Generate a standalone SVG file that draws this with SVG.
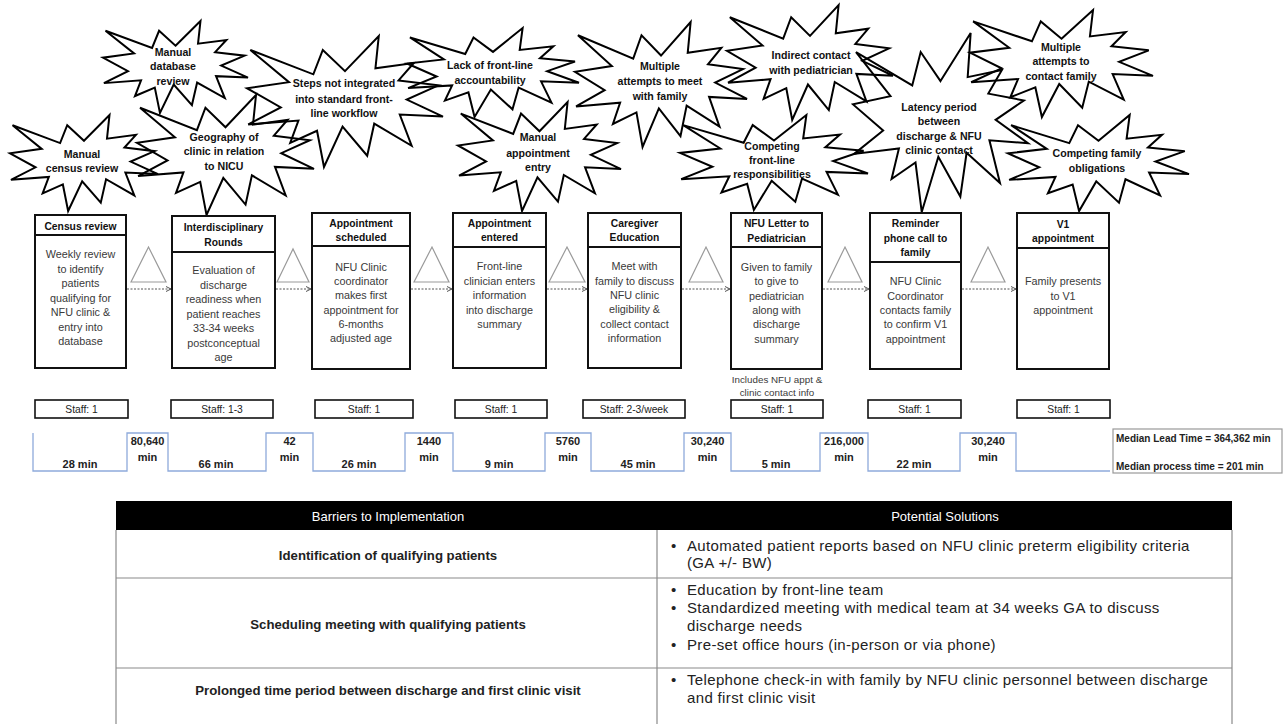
<svg xmlns="http://www.w3.org/2000/svg" width="1284" height="724" viewBox="0 0 1284 724">
<defs>
<style>
text{font-family:"Liberation Sans",Arial,sans-serif;}
.st{font-size:10.6px;font-weight:bold;fill:#111;text-anchor:middle;}
.hd{font-size:10.3px;font-weight:bold;fill:#111;text-anchor:middle;}
.bd{font-size:10.8px;fill:#3a3a3a;text-anchor:middle;}
.nt{font-size:9.8px;fill:#3a3a3a;text-anchor:middle;}
.sf{font-size:10.3px;fill:#222;text-anchor:middle;}
.tm{font-size:11px;font-weight:bold;fill:#222;text-anchor:middle;}
.md{font-size:10px;font-weight:bold;fill:#222;}
.th{font-size:13px;fill:#fff;text-anchor:middle;}
.tl{font-size:13.2px;font-weight:bold;fill:#222;text-anchor:middle;}
.tr{font-size:15px;letter-spacing:0.35px;fill:#222;}
.box{fill:#fff;stroke:#111;stroke-width:2;}
.sbox{fill:#fff;stroke:#111;stroke-width:1.6;}
.star{fill:none;stroke:#000;stroke-width:2;vector-effect:non-scaling-stroke;stroke-linejoin:miter;}
.tri{fill:none;stroke:#9a9a9a;stroke-width:1.2;}
.arr{fill:none;stroke:#555;stroke-width:1;stroke-dasharray:2 1.5;marker-end:url(#ah);}
.tline{fill:none;stroke:#8eaadb;stroke-width:1.3;}
.grid{stroke:#8a8a8a;stroke-width:1.2;fill:none;}
</style>
<marker id="ah" viewBox="0 0 6 6" refX="5.5" refY="3" markerWidth="6" markerHeight="6" markerUnits="userSpaceOnUse" orient="auto">
<path d="M0.5,0.5 L5.5,3 L0.5,5.5" fill="none" stroke="#555" stroke-width="1"/>
</marker>
<path id="seal" class="star" d="M50,26.85 L67.23,0 L65.53,24.65 L85.09,20.63 L77.32,33.87 L97.67,37.67 L81.51,48.5 L100,61.53 L77.95,59.92 L84,83.77 L64.91,66.93 L61.33,91.37 L48.76,69.14 L39.28,100 L35.72,72.35 L22.05,81.56 L26.24,64.52 L0.63,67.53 L17.23,54.51 L0,39.88 L21.42,35.26 L1.71,10.63 L33.85,29.26 L38.67,10.63 Z"/>
</defs>
<rect width="1284" height="724" fill="#fff"/>

<!-- Barrier starbursts -->
<g id="barrier-manual-census-review">
<use href="#seal" transform="translate(10,115) scale(1.48,0.96)"/>
<text class="st" x="82" y="158">Manual</text>
<text class="st" x="82" y="172">census review</text>
</g>
<g id="barrier-manual-database-review">
<use href="#seal" transform="translate(103,21) scale(1.45,0.92)"/>
<text class="st" x="173" y="56">Manual</text>
<text class="st" x="173" y="70">database</text>
<text class="st" x="173" y="85">review</text>
</g>
<g id="barrier-geography">
<use href="#seal" transform="translate(137,95) scale(1.77,1.2)"/>
<text class="st" x="224" y="141">Geography of</text>
<text class="st" x="224" y="155">clinic in relation</text>
<text class="st" x="224" y="170">to NICU</text>
</g>
<g id="barrier-steps-not-integrated">
<use href="#seal" transform="translate(247,36) scale(1.96,1.31)"/>
<text class="st" x="344" y="87">Steps not integrated</text>
<text class="st" x="344" y="103">into standard front-</text>
<text class="st" x="344" y="117">line workflow</text>
</g>
<g id="barrier-lack-accountability">
<use href="#seal" transform="translate(407,28) scale(1.72,0.89)"/>
<text class="st" x="490" y="69">Lack of front-line</text>
<text class="st" x="490" y="84">accountability</text>
</g>
<g id="barrier-manual-appointment-entry">
<use href="#seal" transform="translate(458,102) scale(1.63,1.09)"/>
<text class="st" x="538" y="141">Manual</text>
<text class="st" x="538" y="157">appointment</text>
<text class="st" x="538" y="171">entry</text>
</g>
<g id="barrier-multiple-attempts-meet">
<use href="#seal" transform="translate(575,22) scale(1.72,1.25)"/>
<text class="st" x="660" y="70">Multiple</text>
<text class="st" x="660" y="85">attempts to meet</text>
<text class="st" x="660" y="100">with family</text>
</g>
<g id="barrier-indirect-contact">
<use href="#seal" transform="translate(727,5) scale(1.66,1.15)"/>
<text class="st" x="811" y="59">Indirect contact</text>
<text class="st" x="811" y="74">with pediatrician</text>
</g>
<g id="barrier-competing-front-line">
<use href="#seal" transform="translate(680,115) scale(1.88,0.95)"/>
<text class="st" x="772" y="150">Competing</text>
<text class="st" x="772" y="164">front-line</text>
<text class="st" x="772" y="178">responsibilities</text>
</g>
<g id="barrier-latency-period">
<use href="#seal" transform="translate(853,33) scale(1.75,1.79)"/>
<text class="st" x="939" y="111">Latency period</text>
<text class="st" x="939" y="125">between</text>
<text class="st" x="939" y="140">discharge &amp; NFU</text>
<text class="st" x="939" y="154">clinic contact</text>
</g>
<g id="barrier-multiple-attempts-contact">
<use href="#seal" transform="translate(970,10) scale(1.83,1.07)"/>
<text class="st" x="1061" y="51">Multiple</text>
<text class="st" x="1061" y="65">attempts to</text>
<text class="st" x="1061" y="80">contact family</text>
</g>
<g id="barrier-competing-family">
<use href="#seal" transform="translate(1008,115) scale(1.81,0.96)"/>
<text class="st" x="1097" y="157">Competing family</text>
<text class="st" x="1097" y="172">obligations</text>
</g>

<!-- Inventory triangles -->
<g id="inventory">
<polygon class="tri" points="131,282 148.5,247 166,282"/>
<polygon class="tri" points="277,282 293,249 309,282"/>
<polygon class="tri" points="414,282 432,247 449,282"/>
<polygon class="tri" points="549,282 567,247 585,282"/>
<polygon class="tri" points="689,282 706,247 723,282"/>
<polygon class="tri" points="828,282 845,247 862,282"/>
<polygon class="tri" points="971,282 988,247 1005,282"/>
</g>

<!-- Connectors -->
<g id="connectors">
<line class="arr" x1="127" y1="289" x2="171" y2="289"/>
<line class="arr" x1="276" y1="289" x2="311" y2="289"/>
<line class="arr" x1="411" y1="289" x2="452" y2="289"/>
<line class="arr" x1="547" y1="289" x2="587" y2="289"/>
<line class="arr" x1="682" y1="289" x2="730" y2="289"/>
<line class="arr" x1="823" y1="289" x2="869" y2="289"/>
<line class="arr" x1="962" y1="289" x2="1016" y2="289"/>
</g>

<!-- Process boxes -->
<g id="step-census-review">
<rect class="box" x="35" y="215" width="91" height="153"/>
<line x1="35" y1="235" x2="126" y2="235" stroke="#111" stroke-width="2"/>
<text class="hd" x="80.5" y="229.5">Census review</text>
<text class="bd" x="80.5" y="258">Weekly review</text>
<text class="bd" x="80.5" y="272.5">to identify</text>
<text class="bd" x="80.5" y="287">patients</text>
<text class="bd" x="80.5" y="301.5">qualifying for</text>
<text class="bd" x="80.5" y="316">NFU clinic &amp;</text>
<text class="bd" x="80.5" y="330.5">entry into</text>
<text class="bd" x="80.5" y="345">database</text>
</g>
<g id="step-interdisciplinary-rounds">
<rect class="box" x="172" y="216" width="103" height="152"/>
<line x1="172" y1="252" x2="275" y2="252" stroke="#111" stroke-width="2"/>
<text class="hd" x="223.5" y="230.5">Interdisciplinary</text>
<text class="hd" x="223.5" y="245.5">Rounds</text>
<text class="bd" x="223.5" y="274">Evaluation of</text>
<text class="bd" x="223.5" y="288.5">discharge</text>
<text class="bd" x="223.5" y="303">readiness when</text>
<text class="bd" x="223.5" y="317.5">patient reaches</text>
<text class="bd" x="223.5" y="332">33-34 weeks</text>
<text class="bd" x="223.5" y="346.5">postconceptual</text>
<text class="bd" x="223.5" y="361">age</text>
</g>
<g id="step-appointment-scheduled">
<rect class="box" x="312" y="213" width="98" height="156"/>
<line x1="312" y1="246" x2="410" y2="246" stroke="#111" stroke-width="2"/>
<text class="hd" x="361" y="227">Appointment</text>
<text class="hd" x="361" y="241">scheduled</text>
<text class="bd" x="361" y="270.5">NFU Clinic</text>
<text class="bd" x="361" y="284.5">coordinator</text>
<text class="bd" x="361" y="299">makes first</text>
<text class="bd" x="361" y="313.5">appointment for</text>
<text class="bd" x="361" y="328">6-months</text>
<text class="bd" x="361" y="342">adjusted age</text>
</g>
<g id="step-appointment-entered">
<rect class="box" x="453" y="213" width="93" height="155"/>
<line x1="453" y1="247" x2="546" y2="247" stroke="#111" stroke-width="2"/>
<text class="hd" x="499.5" y="227">Appointment</text>
<text class="hd" x="499.5" y="241">entered</text>
<text class="bd" x="499.5" y="270">Front-line</text>
<text class="bd" x="499.5" y="284.5">clinician enters</text>
<text class="bd" x="499.5" y="299">information</text>
<text class="bd" x="499.5" y="313.5">into discharge</text>
<text class="bd" x="499.5" y="328">summary</text>
</g>
<g id="step-caregiver-education">
<rect class="box" x="588" y="213" width="93" height="155"/>
<line x1="588" y1="247" x2="681" y2="247" stroke="#111" stroke-width="2"/>
<text class="hd" x="634.5" y="226.5">Caregiver</text>
<text class="hd" x="634.5" y="240.5">Education</text>
<text class="bd" x="634.5" y="270">Meet with</text>
<text class="bd" x="634.5" y="284.5">family to discuss</text>
<text class="bd" x="634.5" y="298.5">NFU clinic</text>
<text class="bd" x="634.5" y="313">eligibility &amp;</text>
<text class="bd" x="634.5" y="327.5">collect contact</text>
<text class="bd" x="634.5" y="341.5">information</text>
</g>
<g id="step-nfu-letter">
<rect class="box" x="731" y="213" width="91" height="156"/>
<line x1="731" y1="247" x2="822" y2="247" stroke="#111" stroke-width="2"/>
<text class="hd" x="776.5" y="227">NFU Letter to</text>
<text class="hd" x="776.5" y="241.5">Pediatrician</text>
<text class="bd" x="776.5" y="270.5">Given to family</text>
<text class="bd" x="776.5" y="285">to give to</text>
<text class="bd" x="776.5" y="299.5">pediatrician</text>
<text class="bd" x="776.5" y="314">along with</text>
<text class="bd" x="776.5" y="328">discharge</text>
<text class="bd" x="776.5" y="343">summary</text>
<text class="nt" x="777" y="382.5">Includes NFU appt &amp;</text>
<text class="nt" x="777" y="396">clinic contact info</text>
</g>
<g id="step-reminder-call">
<rect class="box" x="870" y="213" width="91" height="156"/>
<line x1="870" y1="262" x2="961" y2="262" stroke="#111" stroke-width="2"/>
<text class="hd" x="915.5" y="227">Reminder</text>
<text class="hd" x="915.5" y="241.5">phone call to</text>
<text class="hd" x="915.5" y="256">family</text>
<text class="bd" x="915.5" y="285">NFU Clinic</text>
<text class="bd" x="915.5" y="299.5">Coordinator</text>
<text class="bd" x="915.5" y="314">contacts family</text>
<text class="bd" x="915.5" y="328">to confirm V1</text>
<text class="bd" x="915.5" y="343">appointment</text>
</g>
<g id="step-v1-appointment">
<rect class="box" x="1017" y="213" width="92" height="156"/>
<line x1="1017" y1="248" x2="1109" y2="248" stroke="#111" stroke-width="2"/>
<text class="hd" x="1063" y="228">V1</text>
<text class="hd" x="1063" y="241.5">appointment</text>
<text class="bd" x="1063" y="285">Family presents</text>
<text class="bd" x="1063" y="299.5">to V1</text>
<text class="bd" x="1063" y="314">appointment</text>
</g>

<!-- Staff boxes -->
<g id="staff">
<rect class="sbox" x="35" y="400" width="93" height="18"/><text class="sf" x="81.5" y="413">Staff: 1</text>
<rect class="sbox" x="171" y="400" width="102" height="18"/><text class="sf" x="222" y="413">Staff: 1-3</text>
<rect class="sbox" x="315" y="400" width="98" height="18"/><text class="sf" x="364" y="413">Staff: 1</text>
<rect class="sbox" x="455" y="400" width="92" height="18"/><text class="sf" x="501" y="413">Staff: 1</text>
<rect class="sbox" x="583" y="400" width="102" height="18"/><text class="sf" x="634" y="413">Staff: 2-3/week</text>
<rect class="sbox" x="731" y="400" width="92" height="18"/><text class="sf" x="777" y="413">Staff: 1</text>
<rect class="sbox" x="868" y="400" width="93" height="18"/><text class="sf" x="914.5" y="413">Staff: 1</text>
<rect class="sbox" x="1017" y="400" width="93" height="18"/><text class="sf" x="1063.5" y="413">Staff: 1</text>
</g>

<!-- Timeline -->
<g id="timeline">
<path class="tline" d="M33,433 L33,471 L127,471 L127,433 L168,433 L168,471 L266,471 L266,433 L313,433 L313,471 L405,471 L405,433 L453,433 L453,471 L545,471 L545,433 L591,433 L591,471 L684,471 L684,433 L731,433 L731,471 L820,471 L820,433 L868,433 L868,471 L960,471 L960,433 L1016,433 L1016,471 L1110,471"/>
<text class="tm" x="80" y="468">28 min</text>
<text class="tm" x="147.5" y="445">80,640</text><text class="tm" x="147.5" y="461">min</text>
<text class="tm" x="216" y="468">66 min</text>
<text class="tm" x="289.5" y="445">42</text><text class="tm" x="289.5" y="461">min</text>
<text class="tm" x="359" y="468">26 min</text>
<text class="tm" x="429" y="445">1440</text><text class="tm" x="429" y="461">min</text>
<text class="tm" x="499" y="468">9 min</text>
<text class="tm" x="568" y="445">5760</text><text class="tm" x="568" y="461">min</text>
<text class="tm" x="638" y="468">45 min</text>
<text class="tm" x="707.5" y="445">30,240</text><text class="tm" x="707.5" y="461">min</text>
<text class="tm" x="776" y="468">5 min</text>
<text class="tm" x="844" y="445">216,000</text><text class="tm" x="844" y="461">min</text>
<text class="tm" x="914" y="468">22 min</text>
<text class="tm" x="988" y="445">30,240</text><text class="tm" x="988" y="461">min</text>
</g>

<g id="summary">
<rect x="1113" y="429" width="169" height="44" fill="#fff" stroke="#999" stroke-width="1.2"/>
<text class="md" x="1116" y="441.5">Median Lead Time = 364,362 min</text>
<text class="md" x="1116" y="469.5">Median process time = 201 min</text>
</g>

<!-- Table -->
<g id="barriers-table">
<rect x="116" y="501" width="1116" height="29" fill="#000"/>
<text class="th" x="388" y="520.5">Barriers to Implementation</text>
<text class="th" x="945" y="520.5">Potential Solutions</text>
<line class="grid" x1="116" y1="530" x2="116" y2="724"/>
<line class="grid" x1="1232" y1="530" x2="1232" y2="724"/>
<line class="grid" x1="657" y1="530" x2="657" y2="724"/>
<line class="grid" x1="116" y1="578" x2="1232" y2="578"/>
<line class="grid" x1="116" y1="668" x2="1232" y2="668"/>
<text class="tl" x="388" y="559.5">Identification of qualifying patients</text>
<text class="tr" x="671" y="551">•</text>
<text class="tr" x="687" y="551">Automated patient reports based on NFU clinic preterm eligibility criteria</text>
<text class="tr" x="687" y="568">(GA +/- BW)</text>
<text class="tl" x="388" y="628.5">Scheduling meeting with qualifying patients</text>
<text class="tr" x="671" y="595">•</text>
<text class="tr" x="687" y="595">Education by front-line team</text>
<text class="tr" x="671" y="613">•</text>
<text class="tr" x="687" y="613">Standardized meeting with medical team at 34 weeks GA to discuss</text>
<text class="tr" x="687" y="631">discharge needs</text>
<text class="tr" x="671" y="650">•</text>
<text class="tr" x="687" y="650">Pre-set office hours (in-person or via phone)</text>
<text class="tl" x="388" y="694.5">Prolonged time period between discharge and first clinic visit</text>
<text class="tr" x="671" y="685">•</text>
<text class="tr" x="687" y="685">Telephone check-in with family by NFU clinic personnel between discharge</text>
<text class="tr" x="687" y="703">and first clinic visit</text>
</g>
</svg>
